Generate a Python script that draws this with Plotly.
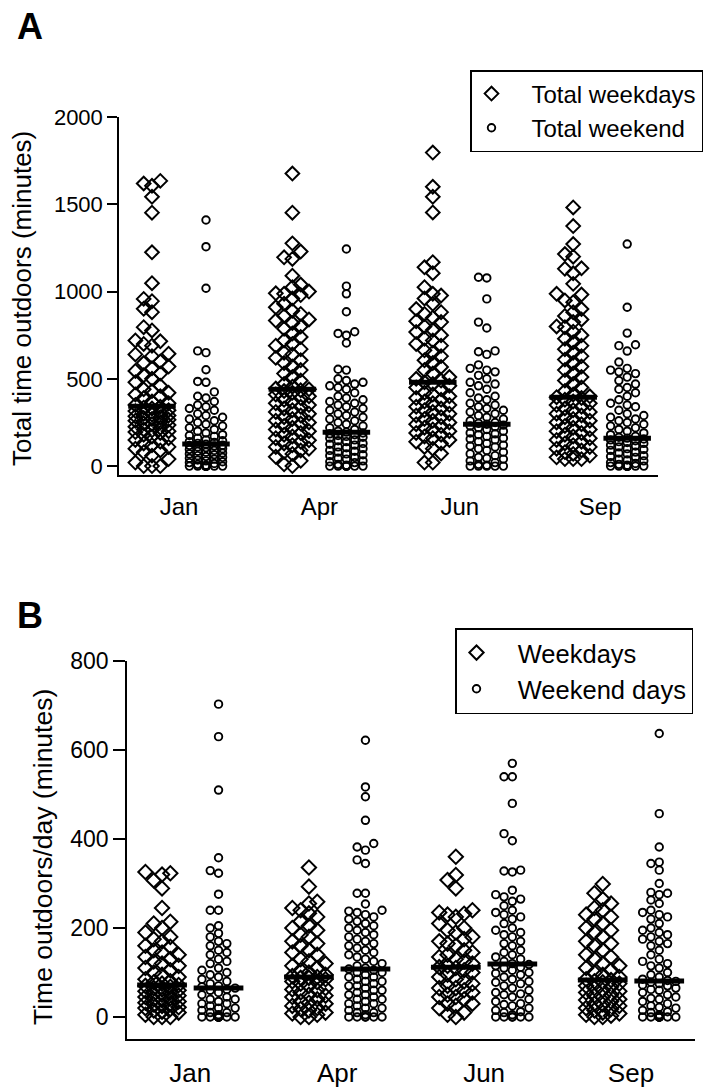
import plotly.graph_objects as go

months = ["Jan", "Apr", "Jun", "Sep"]

# ---------- Panel A: total time outdoors (minutes) ----------
a_wd_jan = [1634, 1619, 1606, 1543, 1452, 1225, 1048, 958, 945, 901, 882, 796, 777, 720, 715, 700, 690,
            644, 640, 630, 600, 590, 570, 560, 545, 530, 520, 500, 480, 460, 440, 430, 420, 410, 400, 390,
            370, 360, 350, 340, 335, 330, 320, 315, 310, 300, 295, 290, 285, 280, 275, 270, 265, 260, 250,
            245, 240, 235, 225, 220, 210, 205, 200, 195, 190, 180, 170, 160, 150, 140, 130, 120, 110, 100,
            90, 80, 60, 40, 20, 0, 0, 0]
a_we_jan = [1410, 1257, 1019, 660, 650, 552, 485, 480, 425, 400, 390, 370, 350, 340, 330, 320, 300, 290,
            280, 270, 260, 250, 240, 230, 220, 210, 200, 190, 180, 175, 170, 160, 150, 145, 140, 135, 130,
            125, 120, 118, 115, 110, 105, 100, 95, 90, 85, 80, 75, 70, 65, 60, 55, 50, 45, 40, 35, 30, 25,
            20, 15, 10, 5, 0, 0, 0, 0, 0, 0, 0, 0, 0, 0]
a_wd_apr = [1676, 1452, 1276, 1229, 1196, 1187, 1091, 1040, 1025, 1000, 990, 987, 980, 960, 930, 910, 890,
            872, 860, 840, 834, 820, 800, 787, 760, 740, 720, 700, 690, 670, 650, 640, 620, 606, 590, 570,
            550, 530, 510, 490, 470, 455, 444, 440, 435, 430, 420, 410, 400, 390, 380, 370, 360, 350, 340,
            330, 320, 310, 300, 290, 280, 270, 260, 250, 244, 230, 220, 210, 200, 190, 180, 170, 160, 148,
            140, 130, 120, 110, 100, 90, 80, 70, 53, 30, 10, 0]
a_we_apr = [1244, 1031, 987, 884, 770, 760, 750, 705, 555, 550, 500, 490, 480, 470, 460, 450, 440, 420,
            400, 390, 380, 370, 360, 350, 340, 330, 320, 310, 300, 290, 280, 270, 260, 250, 240, 230, 220,
            210, 200, 195, 190, 185, 180, 175, 170, 165, 160, 150, 145, 140, 130, 125, 120, 110, 105, 100,
            90, 85, 80, 70, 65, 60, 50, 45, 40, 30, 25, 20, 10, 5, 0, 0, 0, 0, 0, 0, 0]
a_wd_jun = [1796, 1600, 1543, 1453, 1168, 1139, 1105, 1025, 987, 977, 960, 930, 900, 882, 872, 850, 830,
            825, 800, 780, 768, 750, 730, 720, 700, 690, 663, 650, 630, 606, 590, 568, 550, 530, 510, 500,
            490, 480, 470, 460, 450, 440, 420, 410, 400, 390, 380, 370, 360, 350, 340, 330, 320, 310, 300,
            290, 280, 270, 260, 250, 240, 230, 220, 210, 200, 190, 180, 170, 160, 150, 140, 130, 110, 100,
            72, 20, 20]
a_we_jun = [1082, 1078, 958, 825, 791, 660, 655, 640, 580, 560, 550, 540, 520, 500, 480, 470, 460, 440,
            420, 400, 390, 380, 360, 350, 340, 330, 320, 310, 300, 290, 280, 270, 260, 250, 245, 240, 235,
            230, 225, 220, 210, 200, 190, 185, 180, 170, 160, 155, 150, 140, 130, 120, 115, 110, 100, 90,
            80, 70, 60, 50, 45, 40, 30, 20, 10, 5, 0, 0, 0, 0, 0]
a_wd_sep = [1482, 1375, 1272, 1215, 1200, 1133, 1130, 1105, 1044, 987, 983, 949, 939, 900, 882, 860, 840,
            825, 800, 796, 770, 750, 730, 710, 690, 670, 650, 630, 610, 590, 570, 550, 530, 510, 490, 470,
            450, 430, 410, 400, 395, 390, 380, 370, 360, 350, 340, 330, 320, 310, 300, 290, 280, 270, 260,
            250, 240, 230, 220, 210, 200, 190, 180, 170, 160, 150, 140, 130, 120, 110, 100, 90, 80, 70, 60,
            50, 40, 40, 40]
a_we_sep = [1272, 910, 762, 695, 690, 659, 596, 560, 550, 540, 530, 510, 490, 470, 450, 440, 420, 400,
            380, 360, 350, 340, 320, 300, 290, 280, 270, 260, 250, 240, 230, 220, 210, 200, 190, 180, 170,
            165, 160, 155, 150, 145, 140, 135, 130, 120, 115, 110, 100, 95, 90, 80, 75, 70, 60, 55, 50, 40,
            35, 30, 20, 15, 10, 5, 0, 0, 0, 0, 0, 0, 0, 0, 0, 0]
a_median_wd = [343, 440, 480, 394]
a_median_we = [126, 194, 240, 160]

# ---------- Panel B: time outdoors per day (minutes) ----------
b_wd_jan = [326, 323, 320, 307, 289, 245, 214, 210, 200, 190, 180, 175, 170, 160, 158, 150, 145, 140, 135,
            130, 125, 120, 115, 110, 105, 100, 95, 90, 85, 80, 78, 75, 72, 70, 68, 65, 62, 60, 58, 55, 52,
            50, 48, 45, 42, 40, 38, 35, 32, 30, 28, 25, 22, 20, 18, 15, 12, 10, 5, 0, 0, 0]
b_we_jan = [703, 630, 510, 358, 329, 323, 276, 240, 240, 205, 200, 188, 180, 170, 165, 160, 150, 145, 140,
            130, 125, 120, 110, 105, 100, 95, 90, 85, 80, 75, 70, 68, 65, 62, 60, 55, 50, 45, 40, 40, 35,
            30, 30, 25, 20, 20, 15, 10, 10, 5, 0, 0, 0, 0, 0, 0, 0, 0, 0, 0, 0, 0]
b_wd_apr = [336, 293, 259, 255, 245, 240, 233, 225, 215, 205, 200, 195, 185, 180, 170, 165, 160, 150, 145,
            140, 130, 125, 120, 115, 110, 105, 100, 95, 92, 90, 88, 88, 85, 80, 78, 75, 70, 65, 62, 60, 55,
            50, 48, 45, 40, 35, 32, 30, 25, 20, 18, 15, 10, 8, 5, 0, 0]
b_we_apr = [622, 517, 495, 442, 390, 382, 375, 353, 345, 278, 278, 254, 240, 238, 235, 230, 225, 220, 215,
            210, 205, 200, 195, 190, 185, 180, 175, 170, 165, 160, 155, 150, 145, 140, 135, 130, 125, 120,
            115, 110, 108, 105, 100, 100, 95, 90, 90, 85, 80, 80, 75, 70, 70, 65, 60, 60, 55, 50, 50, 45,
            40, 40, 35, 30, 30, 25, 20, 20, 15, 10, 10, 5, 0, 0, 0, 0, 0, 0]
b_wd_jun = [360, 319, 308, 289, 240, 235, 232, 230, 225, 210, 200, 195, 190, 180, 175, 170, 165, 160, 150,
            145, 140, 135, 130, 125, 120, 115, 112, 110, 105, 100, 95, 90, 85, 80, 75, 70, 65, 65, 60, 55,
            50, 45, 45, 40, 30, 30, 25, 20, 10, 5, 0]
b_we_jun = [570, 540, 540, 480, 412, 396, 330, 328, 326, 285, 275, 270, 265, 260, 250, 240, 235, 230, 225,
            220, 210, 200, 195, 190, 185, 180, 170, 165, 160, 150, 145, 140, 135, 130, 125, 120, 118, 115,
            112, 110, 105, 100, 98, 95, 90, 85, 80, 78, 75, 70, 65, 60, 55, 52, 50, 45, 40, 35, 30, 28, 25,
            20, 15, 12, 10, 5, 0, 0, 0, 0, 0, 0]
b_wd_sep = [299, 278, 265, 255, 245, 240, 230, 225, 220, 210, 200, 195, 190, 180, 170, 165, 160, 150, 140,
            135, 130, 120, 115, 110, 105, 100, 95, 90, 85, 83, 80, 78, 75, 70, 68, 65, 60, 58, 55, 50, 48,
            45, 40, 38, 35, 30, 28, 25, 20, 18, 15, 10, 8, 5, 3, 0, 0]
b_we_sep = [637, 457, 382, 348, 345, 330, 300, 280, 278, 275, 263, 255, 240, 235, 230, 225, 220, 210, 200,
            195, 190, 185, 180, 175, 170, 165, 160, 150, 140, 130, 125, 120, 115, 110, 100, 95, 90, 85, 82,
            80, 78, 75, 72, 70, 65, 62, 60, 55, 50, 45, 42, 40, 35, 30, 25, 22, 20, 15, 12, 10, 5, 0, 0, 0,
            0, 0, 0, 0, 0, 0, 0]
b_median_wd = [72, 90, 112, 83]
b_median_we = [65, 108, 119, 81]

A_WD = [a_wd_jan, a_wd_apr, a_wd_jun, a_wd_sep]
A_WE = [a_we_jan, a_we_apr, a_we_jun, a_we_sep]
B_WD = [b_wd_jan, b_wd_apr, b_wd_jun, b_wd_sep]
B_WE = [b_we_jan, b_we_apr, b_we_jun, b_we_sep]

# ---------- layout geometry ----------
W, H = 711, 1091
FONT = "Liberation Sans, Arial, Helvetica, sans-serif"
STEP = 2.6          # distance between month groups (x units)
NB = "\u00a0"

def px_x(x0, x1):
    return (x0 / W, x1 / W)

def px_y(top, bottom):
    return (1 - bottom / H, 1 - top / H)

A_XDOM = px_x(119, 658)
A_YDOM = px_y(117, 475)
A_XR = [-0.611, -0.611 + 539 / 54.0]
A_YR = [-51, 2000]
B_XDOM = px_x(127, 695)
B_YDOM = px_y(661, 1039)
B_XR = [-0.62, -0.62 + 568 / 56.5]
B_YR = [-49.4, 800]


def swarm(vals, center, ypx, xpx, step_px, dmin):
    """Column-scatter layout: spread points sideways when they collide."""
    order = sorted(range(len(vals)), key=lambda i: vals[i])
    cols = [0, -1, 1, -2, 2]
    placed = {c: [] for c in cols}
    xs = [center] * len(vals)
    for i in order:
        y = vals[i] * ypx
        best, bestd = 0, -1.0
        for c in cols:
            d = min([abs(y - p) for p in placed[c]], default=1e9)
            if d >= dmin:
                best = c
                break
            if d > bestd:
                bestd, best = d, c
        placed[best].append(y)
        xs[i] = center + best * step_px / xpx
    return xs


fig = go.Figure()


def add_panel(WD, WE, med_wd, med_we, xa, ya, ypx, xpx, names, legend, dsize, csize):
    xs_wd, ys_wd, xs_we, ys_we = [], [], [], []
    for i in range(4):
        cwd = STEP * i
        cwe = STEP * i + 1
        xs_wd += swarm(WD[i], cwd, ypx, xpx, 8.3, 9.5)
        ys_wd += WD[i]
        xs_we += swarm(WE[i], cwe, ypx, xpx, 8.3, 7.5)
        ys_we += WE[i]
    fig.add_trace(go.Scatter(
        x=xs_wd, y=ys_wd, mode="markers", name=names[0], xaxis=xa, yaxis=ya, legend=legend,
        marker=dict(symbol="diamond-open", size=dsize, color="black", line=dict(width=2, color="black")),
        cliponaxis=False, hoverinfo="y"))
    fig.add_trace(go.Scatter(
        x=xs_we, y=ys_we, mode="markers", name=names[1], xaxis=xa, yaxis=ya, legend=legend,
        marker=dict(symbol="circle-open", size=csize, color="black", line=dict(width=1.9, color="black")),
        cliponaxis=False, hoverinfo="y"))
    lx, ly = [], []
    hw = 0.44
    for i in range(4):
        for c, m in ((STEP * i, med_wd[i]), (STEP * i + 1, med_we[i])):
            lx += [c - hw, c + hw, None]
            ly += [m, m, None]
    fig.add_trace(go.Scatter(x=lx, y=ly, mode="lines", xaxis=xa, yaxis=ya, showlegend=False,
                             line=dict(color="black", width=5), hoverinfo="skip", cliponaxis=False))


add_panel(A_WD, A_WE, a_median_wd, a_median_we, "x", "y", 358 / 2051, 54.0,
          [NB * 3 + "Total weekdays", NB * 3 + "Total weekend"], "legend", 10.5, 7.5)
add_panel(B_WD, B_WE, b_median_wd, b_median_we, "x2", "y2", 378 / 849.4, 56.5,
          [NB * 3 + "Weekdays", NB * 3 + "Weekend days"], "legend2", 11, 7.5)

tickvals = [STEP * i + 0.5 for i in range(4)]
axis_common = dict(showgrid=False, zeroline=False, showline=True, linecolor="black", linewidth=1.5)

def tf(size):
    return dict(family=FONT, size=size, color="black")

fig.update_layout(
    width=W, height=H, margin=dict(l=0, r=0, t=0, b=0, autoexpand=False),
    paper_bgcolor="white", plot_bgcolor="white",
    font=dict(family=FONT, color="black"),
    xaxis=dict(domain=A_XDOM, range=A_XR, anchor="y", tickvals=tickvals, ticktext=months,
               ticks="", ticklabelstandoff=9, tickfont=tf(24), **axis_common),
    yaxis=dict(domain=A_YDOM, range=A_YR, anchor="x", tickvals=[0, 500, 1000, 1500, 2000],
               ticks="outside", ticklen=10, tickwidth=1.5, tickcolor="black", tickfont=tf(22),
               **axis_common),
    xaxis2=dict(domain=B_XDOM, range=B_XR, anchor="y2", tickvals=tickvals, ticktext=months,
                ticks="", ticklabelstandoff=10, tickfont=tf(26), **axis_common),
    yaxis2=dict(domain=B_YDOM, range=B_YR, anchor="x2", tickvals=[0, 200, 400, 600, 800],
                ticks="outside", ticklen=12, tickwidth=1.5, tickcolor="black", tickfont=tf(23),
                **axis_common),
    legend=dict(x=470 / W, y=1 - 70 / H, xanchor="left", yanchor="top", bordercolor="black",
                borderwidth=1.5, bgcolor="white", font=tf(24), tracegroupgap=0),
    legend2=dict(x=455 / W, y=1 - 628 / H, xanchor="left", yanchor="top", bordercolor="black",
                 borderwidth=1.5, bgcolor="white", font=tf(25.5), tracegroupgap=0),
    showlegend=True,
    annotations=[
        dict(text="<b>A</b>", x=30 / W, y=1 - 27 / H, xref="paper", yref="paper", showarrow=False,
             xanchor="center", yanchor="middle", font=tf(36)),
        dict(text="<b>B</b>", x=30 / W, y=1 - 615 / H, xref="paper", yref="paper", showarrow=False,
             xanchor="center", yanchor="middle", font=tf(36)),
        dict(text="Total time outdoors (minutes)", x=22 / W, y=1 - 299 / H, xref="paper", yref="paper",
             showarrow=False, textangle=-90, xanchor="center", yanchor="middle", font=tf(26)),
        dict(text="Time outdoors/day (minutes)", x=43 / W, y=1 - 857 / H, xref="paper", yref="paper",
             showarrow=False, textangle=-90, xanchor="center", yanchor="middle", font=tf(26.5)),
    ],
)

PIN = ("document.documentElement.style.margin='0';document.body.style.margin='0';"
       "var d=document.getElementById('{plot_id}');d.style.position='absolute';"
       "d.style.top='0px';d.style.left='0px';")

fig.write_html("out.html", post_script=PIN, config={"displayModeBar": False})
